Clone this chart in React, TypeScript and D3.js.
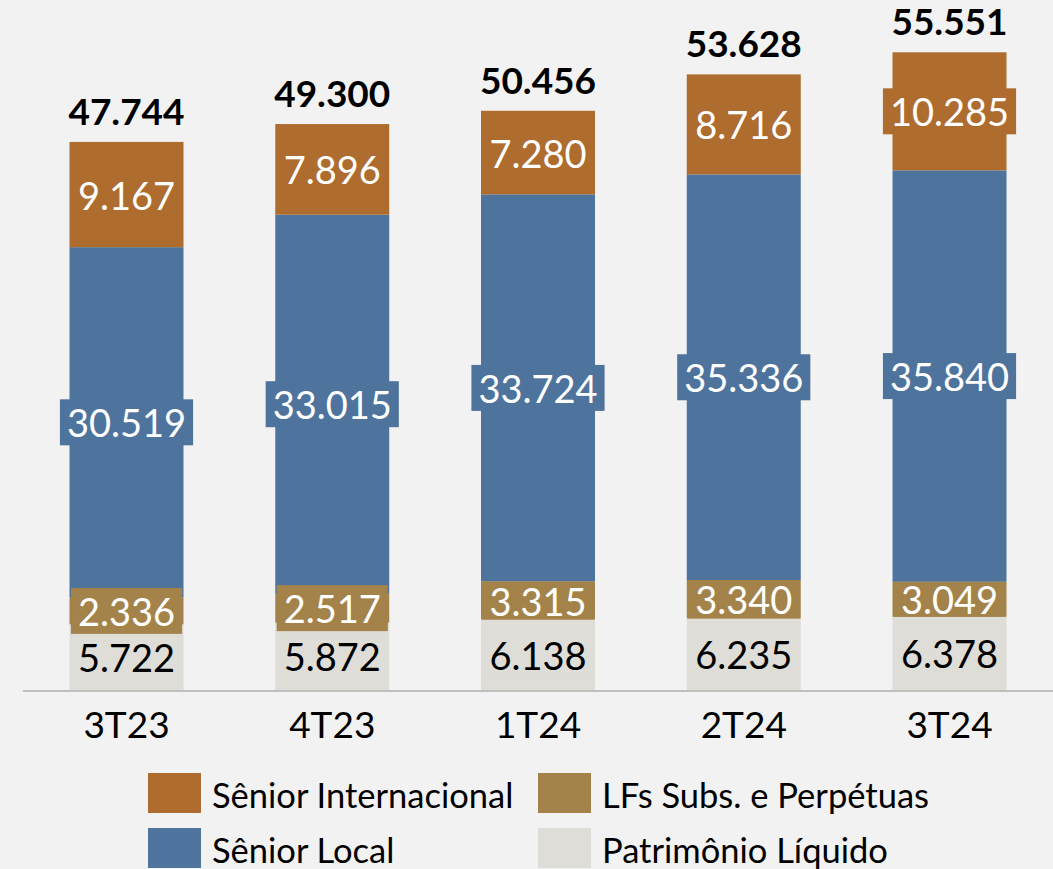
import React, { useEffect, useRef } from 'react';
import * as d3 from 'd3';

// trimestres
const categories = ['3T23', '4T23', '1T24', '2T24', '3T24'];
// series, bottom to top (R$ bi)
const patrimonio = [5.722, 5.872, 6.138, 6.235, 6.378];
const lfsSubs = [2.336, 2.517, 3.315, 3.340, 3.049];
const seniorLocal = [30.519, 33.015, 33.724, 35.336, 35.840];
const seniorIntl = [9.167, 7.896, 7.280, 8.716, 10.285];
const totals = [47.744, 49.300, 50.456, 53.628, 55.551];

const seriesNames = ['Patrimônio Líquido', 'LFs Subs. e Perpétuas', 'Sênior Local', 'Sênior Internacional'];
const seriesColors = ['#deddd8', '#a4834a', '#4e749d', '#ae6c2e'];
const labelColors = ['#000', '#fff', '#fff', '#fff'];

const W = 1053;
const H = 869;
const FONT = 'Lato, Carlito, Calibri, sans-serif';

const fmt = (v: number) => v.toFixed(3);

function drawChart(el: SVGSVGElement) {
  const svg = d3.select(el);
  svg.selectAll('*').remove();

  svg.append('rect').attr('width', W).attr('height', H).attr('fill', '#f2f2f2');

  const x = d3.scaleBand<string>()
    .domain(categories)
    .range([23, W])
    .paddingInner(0.446)
    .paddingOuter(0.226);

  const y = d3.scaleLinear().domain([0, 55.551]).range([690, 52.3]);

  const table = categories.map((c, i) => ({
    cat: c,
    v0: patrimonio[i], v1: lfsSubs[i], v2: seniorLocal[i], v3: seniorIntl[i],
  }));
  const stack = d3.stack<any>().keys(['v0', 'v1', 'v2', 'v3'])(table);

  const bars = svg.append('g');
  stack.forEach((layer, si) => {
    bars.selectAll(null)
      .data(layer)
      .join('rect')
      .attr('x', (d: any) => x(d.data.cat)!)
      .attr('width', x.bandwidth())
      .attr('y', (d: any) => y(d[1]))
      .attr('height', (d: any) => y(d[0]) - y(d[1]))
      .attr('fill', seriesColors[si]);
  });

  // axis line
  svg.append('line')
    .attr('x1', 23).attr('x2', W)
    .attr('y1', y(0) + 1).attr('y2', y(0) + 1)
    .attr('stroke', '#bfbfbf').attr('stroke-width', 2);

  // data labels with boxes
  const labels = svg.append('g');
  stack.forEach((layer, si) => {
    layer.forEach((d: any) => {
      const cx = x(d.data.cat)! + x.bandwidth() / 2;
      const cy = (y(d[0]) + y(d[1])) / 2;
      const segH = y(d[0]) - y(d[1]);
      const g = labels.append('g');
      const box = g.append('rect').attr('fill', seriesColors[si]);
      const t = g.append('text')
        .attr('x', cx).attr('y', cy)
        .attr('text-anchor', 'middle')
        .attr('dominant-baseline', 'central')
        .attr('font-family', FONT)
        .attr('font-size', 38)
        .attr('fill', labelColors[si])
        .text(fmt(d[1] - d[0]));
      const tw = (t.node() as SVGTextElement).getComputedTextLength();
      const bw = tw + 14;
      const bh = segH < 32 ? 46 : Math.min(46, segH);
      box.attr('x', cx - bw / 2).attr('y', cy - bh / 2).attr('width', bw).attr('height', bh);
    });
  });

  // totals
  svg.append('g').selectAll('text')
    .data(categories)
    .join('text')
    .attr('x', (c) => x(c)! + x.bandwidth() / 2)
    .attr('y', (c, i) => y(totals[i]) - 17)
    .attr('text-anchor', 'middle')
    .attr('font-family', FONT)
    .attr('font-weight', 'bold')
    .attr('font-size', 37)
    .attr('fill', '#000')
    .text((c, i) => fmt(totals[i]));

  // category labels
  svg.append('g').selectAll('text')
    .data(categories)
    .join('text')
    .attr('x', (c) => x(c)! + x.bandwidth() / 2)
    .attr('y', 738)
    .attr('text-anchor', 'middle')
    .attr('font-family', FONT)
    .attr('font-size', 37)
    .attr('fill', '#000')
    .text((c) => c);

  // legend
  const legendItems = [
    { name: seriesNames[3], color: seriesColors[3], col: 0, row: 0 },
    { name: seriesNames[1], color: seriesColors[1], col: 1, row: 0 },
    { name: seriesNames[2], color: seriesColors[2], col: 0, row: 1 },
    { name: seriesNames[0], color: seriesColors[0], col: 1, row: 1 },
  ];
  const colX = [148, 538];
  const rowY = [773, 828];
  const lg = svg.append('g');
  legendItems.forEach((it) => {
    lg.append('rect')
      .attr('x', colX[it.col]).attr('y', rowY[it.row])
      .attr('width', 53).attr('height', 40)
      .attr('fill', it.color);
    lg.append('text')
      .attr('x', colX[it.col] + 64).attr('y', rowY[it.row] + 21)
      .attr('dominant-baseline', 'central')
      .attr('font-family', FONT)
      .attr('font-size', 34.5)
      .attr('fill', '#000')
      .text(it.name);
  });
}

export default function App() {
  const ref = useRef<SVGSVGElement>(null);
  useEffect(() => {
    if (ref.current) drawChart(ref.current);
  }, []);
  return (
    <svg
      ref={ref}
      width={W}
      height={H}
      style={{ position: 'absolute', left: 0, top: 0, display: 'block' }}
    />
  );
}
